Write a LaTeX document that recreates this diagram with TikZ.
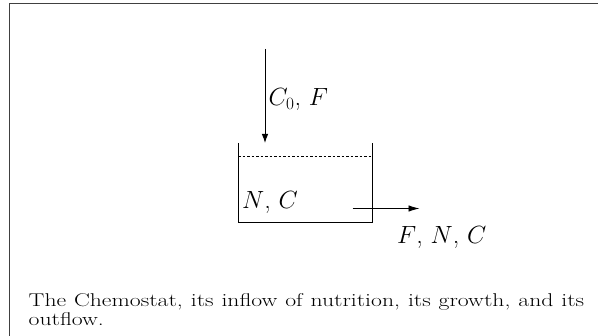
\documentclass[tikz,border=0pt]{standalone}
\usetikzlibrary{arrows.meta}
\tikzset{
  frameline/.style={draw=black!75, line width=1.2pt},
  wall/.style={draw=black, line width=0.9pt},
  flow/.style={draw=black, line width=0.9pt},
  level/.style={draw=black, line width=0.7pt, dash pattern=on 2.5pt off 2pt},
  lbl/.style={inner sep=0pt, anchor=base west, font=\fontsize{26}{31}\selectfont},
  captext/.style={inner sep=0pt, anchor=base west, font=\fontsize{18.5}{19}\selectfont}
}
\begin{document}
\begin{tikzpicture}[x=1pt,y=-1pt]
\useasboundingbox (0,0) rectangle (598,336);
% frame
\coordinate (fr) at (598,3.5);
\coordinate (fc) at (9.5,3.5);
\coordinate (fb) at (9.5,336);
\draw[frameline] (fr) -- (fc) -- (fb);
% tank
\coordinate (tl) at (238,143);
\coordinate (bl) at (238,222);
\coordinate (br) at (372,222);
\coordinate (tr) at (372,143);
\draw[wall] (tl) -- (bl) -- (br) -- (tr);
\coordinate (dl) at (238,156);
\coordinate (dr) at (372,156);
\draw[level] (dl) -- (dr);
% inflow
\coordinate (in0) at (265,49);
\coordinate (in1) at (265,143);
\draw[flow, -{Latex[length=9pt,width=6.5pt]}] (in0) -- (in1);
\node[lbl] (c0f) at (268.5,106) {$C_0$, $F$};
% contents
\node[lbl] (nc) at (242,209) {$N$, $C$};
% outflow
\coordinate (out0) at (352.5,208.5);
\coordinate (out1) at (419.5,208.5);
\draw[flow, -{Latex[length=11pt,width=6.5pt]}] (out0) -- (out1);
\node[lbl] (fnc) at (397,244) {$F$, $N$, $C$};
% caption
\node[captext] (caption) at (28.5,307) {\scalebox{1.28}[1]{\parbox[t]{434pt}{\hyphenpenalty=10000 The Chemostat, its inflow of nutrition, its growth, and its outflow.}}};
\end{tikzpicture}
\end{document}
